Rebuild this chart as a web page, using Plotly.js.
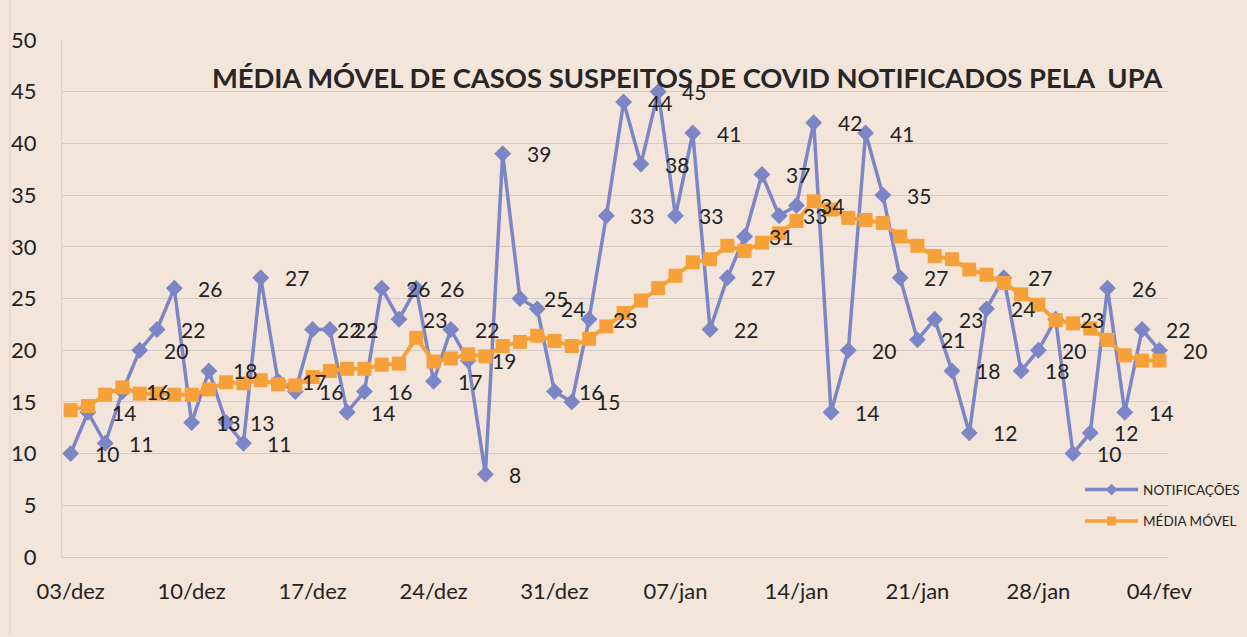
<!DOCTYPE html>
<html>
<head>
<meta charset="utf-8">
<script src="https://cdn.plot.ly/plotly-3.0.1.min.js"></script>
<style>
  html, body { margin: 0; padding: 0; background: #f4e5db; }
  #chart { width: 1247px; height: 637px; }
</style>
</head>
<body>
<div id="chart"></div>
<script>
// ---- data ----
const dates = [
  "03/dez","04/dez","05/dez","06/dez","07/dez","08/dez","09/dez","10/dez","11/dez","12/dez",
  "13/dez","14/dez","15/dez","16/dez","17/dez","18/dez","19/dez","20/dez","21/dez","22/dez",
  "23/dez","24/dez","25/dez","26/dez","27/dez","28/dez","29/dez","30/dez","31/dez",
  "01/jan","02/jan","03/jan","04/jan","05/jan","06/jan","07/jan","08/jan","09/jan","10/jan",
  "11/jan","12/jan","13/jan","14/jan","15/jan","16/jan","17/jan","18/jan","19/jan","20/jan",
  "21/jan","22/jan","23/jan","24/jan","25/jan","26/jan","27/jan","28/jan","29/jan","30/jan","31/jan",
  "01/fev","02/fev","03/fev","04/fev"
];
const notificacoes = [
  10,14,11,16,20,22,26,13,18,13,
  11,27,17,16,22,22,14,16,26,23,
  26,17,22,19,8,39,25,24,16,
  15,23,33,44,38,45,33,41,22,27,
  31,37,33,34,42,14,20,41,35,27,
  21,23,18,12,24,27,18,20,23,10,12,
  26,14,22,20
];
const mediaMovel = [
  14.2,14.6,15.7,16.4,15.8,15.8,15.7,15.7,16.2,16.9,
  16.8,17.1,16.7,16.6,17.4,18.0,18.2,18.2,18.6,18.7,
  21.2,18.9,19.2,19.6,19.4,20.4,20.8,21.4,20.9,
  20.4,21.1,22.3,23.6,24.8,26.0,27.2,28.5,28.8,30.1,
  29.6,30.4,31.3,32.5,34.4,33.6,32.8,32.6,32.3,31.0,
  30.1,29.1,28.8,27.8,27.3,26.5,25.4,24.4,22.9,22.6,22.1,
  21.0,19.5,19.0,19.0
];
const tickLabels = ["03/dez","10/dez","17/dez","24/dez","31/dez","07/jan","14/jan","21/jan","28/jan","04/fev"];
const titleText = "MÉDIA MÓVEL DE CASOS SUSPEITOS DE COVID NOTIFICADOS PELA\u00a0\u00a0UPA";
const seriesNames = ["NOTIFICAÇÕES", "MÉDIA MÓVEL"];

// ---- chart ----
const FONT = "Lato, 'Open Sans', sans-serif";
const BLUE = "#7b86c6";
const ORANGE = "#f6a03a";

const traces = [
  {
    x: dates, y: notificacoes, name: seriesNames[0], type: "scatter", mode: "lines+markers",
    line: { color: BLUE, width: 3.5 },
    marker: { symbol: "diamond", size: 13, color: BLUE },
    showlegend: false, hoverinfo: "x+y"
  },
  {
    x: dates, y: mediaMovel, name: seriesNames[1], type: "scatter", mode: "lines+markers",
    line: { color: ORANGE, width: 4 },
    marker: { symbol: "square", size: 14, color: ORANGE },
    showlegend: false, hoverinfo: "x+y"
  },
  // legend-only entries (smaller symbols, as in the reference legend)
  {
    x: [null], y: [null], name: seriesNames[0], type: "scatter", mode: "lines+markers",
    line: { color: BLUE, width: 3.5 },
    marker: { symbol: "diamond", size: 9, color: BLUE },
    legendgroup: "a", showlegend: true
  },
  {
    x: [null], y: [null], name: seriesNames[1], type: "scatter", mode: "lines+markers",
    line: { color: ORANGE, width: 3.5 },
    marker: { symbol: "square", size: 9, color: ORANGE },
    legendgroup: "b", showlegend: true
  }
];

const annotations = notificacoes.map((v, i) => ({
  x: dates[i], y: v, xref: "x", yref: "y",
  text: String(v), showarrow: false,
  xanchor: "left", yanchor: "middle", xshift: 22,
  font: { family: FONT, size: 21, color: "#222" }
}));

const layout = {
  width: 1247, height: 637,
  paper_bgcolor: "#f4e5db", plot_bgcolor: "rgba(0,0,0,0)",
  margin: { l: 62, r: 79, t: 40, b: 80, autoexpand: false },
  font: { family: FONT, color: "#222" },
  title: {
    text: "<b>" + titleText + "</b>",
    font: { family: FONT, size: 27.4, color: "#262626" },
    xref: "container", x: 0.551, xanchor: "center",
    yref: "container", y: 0.877, yanchor: "middle"
  },
  xaxis: {
    type: "category",
    categoryorder: "array", categoryarray: dates,
    range: [-0.5, dates.length - 0.5],
    tickmode: "array", tickvals: tickLabels, ticktext: tickLabels,
    showgrid: false, zeroline: false, showline: false,
    ticks: "outside", ticklen: 15, tickcolor: "rgba(0,0,0,0)",
    tickfont: { family: FONT, size: 22, color: "#222" }
  },
  yaxis: {
    range: [0, 50], dtick: 5, tick0: 0,
    showgrid: true, gridcolor: "#d3cbc6", gridwidth: 1,
    zeroline: true, zerolinecolor: "#d3cbc6", zerolinewidth: 1,
    showline: true, linecolor: "#ddd3cc", linewidth: 1,
    ticks: "outside", ticklen: 20, tickcolor: "rgba(0,0,0,0)",
    tickfont: { family: FONT, size: 22, color: "#222" }
  },
  legend: {
    x: 0.9205, xanchor: "left", y: 0.16, yanchor: "top",
    bgcolor: "rgba(0,0,0,0)",
    font: { family: FONT, size: 13.5, color: "#222" },
    itemwidth: 53,
    traceorder: "grouped", tracegroupgap: 11
  },
  shapes: [
    { type: "line", xref: "paper", yref: "paper", x0: -0.047, x1: -0.047, y0: -0.15, y1: 1.08,
      line: { color: "#ddd3cc", width: 1 } }
  ],
  annotations: annotations,
  showlegend: true
};

Plotly.newPlot("chart", traces, layout, { displayModeBar: false, staticPlot: true });
</script>
</body>
</html>
